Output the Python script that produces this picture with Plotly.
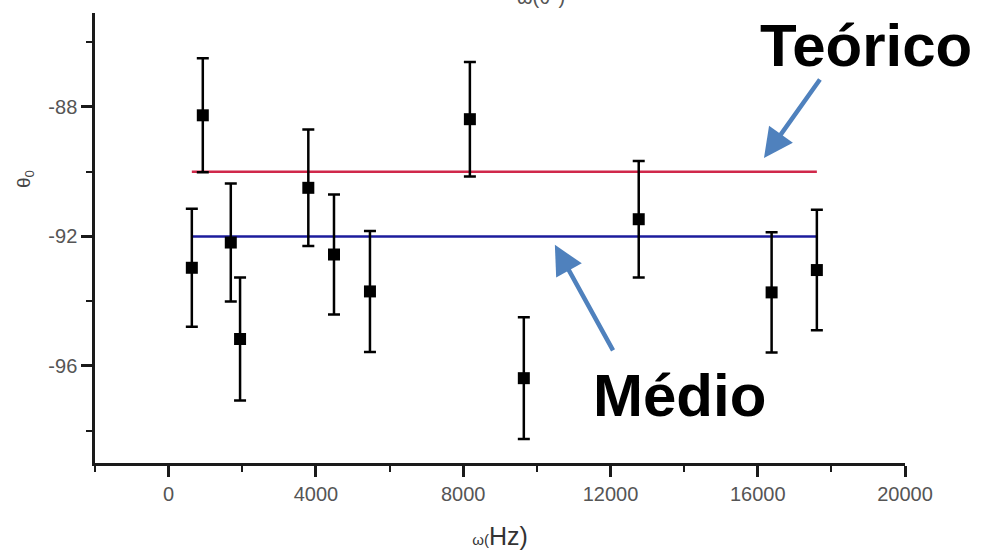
import plotly.graph_objects as go

# Data
freq_hz = [630, 928, 1688, 1940, 3794, 4491, 5468, 8182, 9647, 12768, 16377, 17606]
theta0 = [-92.97, -88.26, -92.19, -95.17, -90.50, -92.56, -93.70, -88.38, -96.38, -91.47, -93.73, -93.04]
theta_err = [1.82, 1.76, 1.82, 1.90, 1.80, 1.85, 1.87, 1.77, 1.88, 1.80, 1.86, 1.86]
theoretical = -90.0
mean_value = -92.0

x_ticks = [0, 4000, 8000, 12000, 16000, 20000]
y_ticks = [-88, -92, -96]

FONT = "Liberation Sans, Arial, sans-serif"

fig = go.Figure()

line_x = [min(freq_hz), max(freq_hz)]
fig.add_trace(go.Scatter(x=line_x, y=[theoretical, theoretical], mode="lines",
                         line=dict(color="#d0284a", width=2.5), showlegend=False))
fig.add_trace(go.Scatter(x=line_x, y=[mean_value, mean_value], mode="lines",
                         line=dict(color="#1c1c9c", width=2.5), showlegend=False))

fig.add_trace(go.Scatter(
    x=freq_hz, y=theta0, mode="markers",
    marker=dict(symbol="square", size=12, color="black"),
    error_y=dict(type="data", array=theta_err, visible=True,
                 color="black", thickness=2.5, width=6),
    showlegend=False))

axis_common = dict(
    showline=True, linecolor="#1a1a1a", linewidth=2.5,
    ticks="outside", ticklen=11, tickwidth=2.5, tickcolor="#1a1a1a",
    showgrid=False, zeroline=False,
    tickfont=dict(family=FONT, size=20, color="#555555"),
)

fig.update_xaxes(
    range=[-2000, 20000], tickvals=x_ticks, ticktext=[str(v) for v in x_ticks],
    minor=dict(ticks="outside", ticklen=6, tickwidth=2, tickcolor="#1a1a1a", dtick=2000, tick0=0),
    title=dict(text="<span style='font-size:15px'>ω(</span>Hz)",
               font=dict(family=FONT, size=25, color="#333333"), standoff=24),
    **axis_common)
fig.update_yaxes(
    range=[-99, -85.1], tickvals=y_ticks, ticktext=[str(v) for v in y_ticks],
    minor=dict(ticks="outside", ticklen=6, tickwidth=2, tickcolor="#1a1a1a", dtick=2, tick0=-88),
    **axis_common)

# Y-axis title (placed above centre as in the reference)
fig.add_annotation(text="θ<sub>0</sub>", xref="paper", yref="paper", x=-0.087, y=0.63,
                   xanchor="center", yanchor="middle", textangle=-90, showarrow=False,
                   font=dict(family=FONT, size=19, color="#444444"))

# Top (cropped) title
fig.add_annotation(text="ω(θ°)", xref="paper", yref="paper", x=0.55, y=1.035,
                   showarrow=False, font=dict(family=FONT, size=20, color="#555555"),
                   yanchor="middle")

# Labels
fig.add_annotation(text="<b>Teórico</b>", xref="x", yref="y", x=18930, y=-86.1,
                   showarrow=False, font=dict(family=FONT, size=60, color="black"))
fig.add_annotation(text="<b>Médio</b>", xref="x", yref="y", x=13880, y=-96.9,
                   showarrow=False, font=dict(family=FONT, size=60, color="black"))

# Arrows
arrow_color = "#4f81bd"
fig.add_annotation(text="", x=16170, y=-89.58, xref="x", yref="y",
                   ax=57, ay=-80, showarrow=True, arrowhead=2, arrowsize=1.3,
                   arrowwidth=4.5, arrowcolor=arrow_color)
fig.add_annotation(text="", x=10490, y=-92.26, xref="x", yref="y",
                   ax=59, ay=107, showarrow=True, arrowhead=2, arrowsize=1.3,
                   arrowwidth=4.5, arrowcolor=arrow_color)

fig.update_layout(
    width=981, height=558,
    margin=dict(l=95, r=76, t=13, b=93),
    paper_bgcolor="white", plot_bgcolor="white",
    font=dict(family=FONT),
)

fig.write_html("out.html")
